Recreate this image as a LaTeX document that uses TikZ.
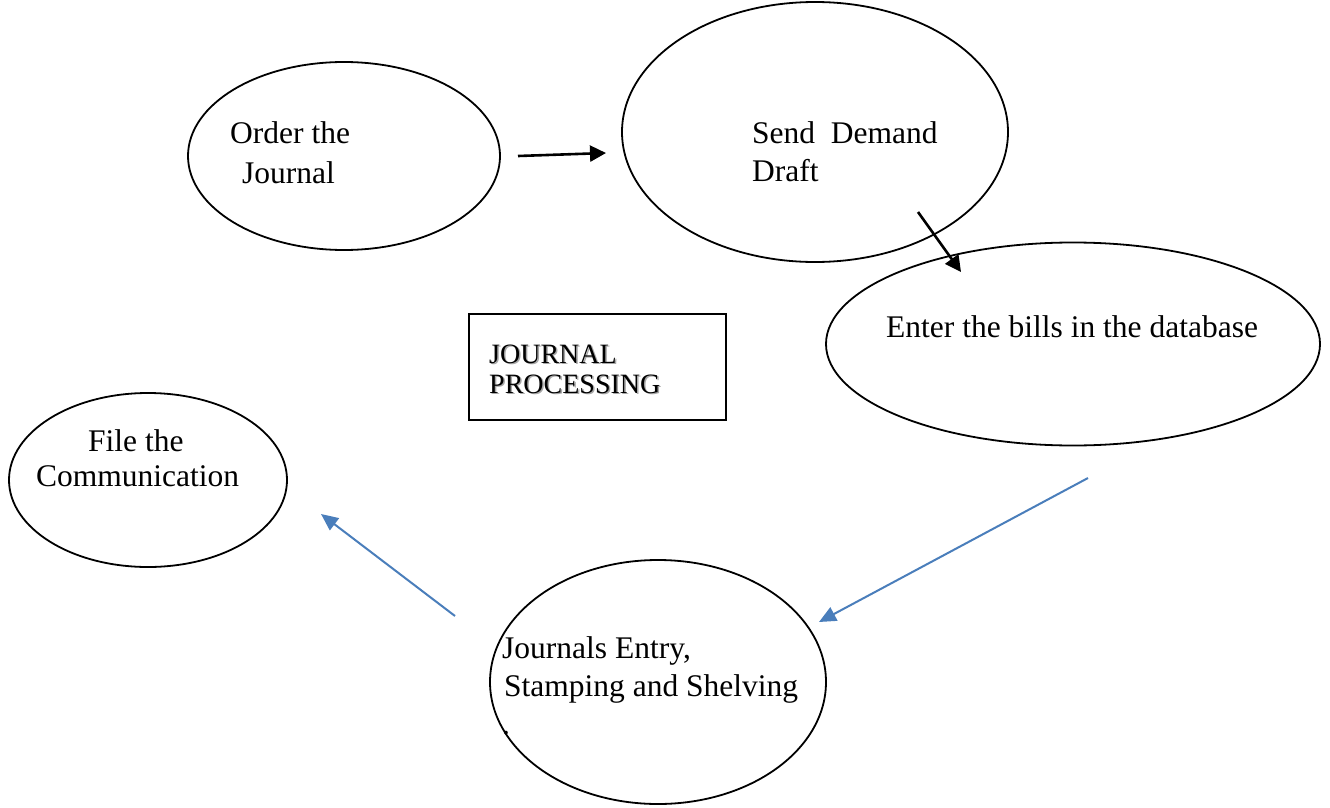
\documentclass[tikz,border=0pt]{standalone}
\usepackage{fontspec}
\setmainfont{Liberation Serif}
\usetikzlibrary{shapes.geometric,arrows.meta}
\definecolor{wordblue}{HTML}{4A7EBB}
\tikzset{
  proc/.style={draw=black,line width=1.8pt,ellipse,inner sep=0pt},
  lbl/.style={anchor=base west,inner sep=0pt,font=\fontsize{31.5}{36}\selectfont},
  boxlbl/.style={anchor=base west,inner sep=0pt,font=\fontsize{28}{32}\selectfont},
  blackarrow/.style={line width=2.6pt,-{Triangle[length=16pt,width=16pt]}},
  bluearrow/.style={draw=wordblue,line width=2pt,-{Triangle[length=17pt,width=15pt]}}
}
\begin{document}
\begin{tikzpicture}[x=1pt,y=-1pt]
\useasboundingbox (0,0) rectangle (1330,808);
% ellipses
\node[proc,minimum width=312pt,minimum height=188pt] (order) at (344,156) {};
\node[proc,minimum width=386pt,minimum height=260pt] (send) at (815,132) {};
\node[proc,minimum width=494pt,minimum height=203pt] (enter) at (1073,344) {};
\node[proc,minimum width=278pt,minimum height=174pt] (file) at (148,480) {};
\node[proc,minimum width=336pt,minimum height=244pt] (journ) at (658,682) {};
% box
\node[draw=black,line width=1.2pt,minimum width=257pt,minimum height=106pt,inner sep=0pt] (box) at (597.5,367) {};
% texts
\node[lbl] (t1a) at (230,143) {Order the};
\node[lbl] (t1b) at (242,183) {Journal};
\node[lbl] (t2a) at (752,143) {Send\ \ Demand};
\node[lbl] (t2b) at (752,181) {Draft};
\node[lbl] (t3) at (886,337) {Enter the bills in the database};
\node[lbl] (t4a) at (88,451) {File the};
\node[lbl] (t4b) at (36,486) {Communication};
\node[lbl] (t5a) at (502,658) {Journals Entry,};
\node[lbl] (t5b) at (504,696) {Stamping and Shelving};
\node[lbl] (t5c) at (502,734) {.};
\node[boxlbl,text=black!35] at (490.5,364.5) {JOURNAL};
\node[boxlbl,text=black!35] at (490.5,394.5) {PROCESSING};
\node[boxlbl] (b1) at (489,363) {JOURNAL};
\node[boxlbl] (b2) at (489,393) {PROCESSING};
% arrows
\coordinate (a1s) at (518,156);
\coordinate (a1e) at (606,153);
\coordinate (a2s) at (918,212);
\coordinate (a2e) at (961,272);
\coordinate (a3s) at (1088,478);
\coordinate (a3e) at (819,622);
\coordinate (a4s) at (455,616);
\coordinate (a4e) at (321,514);
\draw[blackarrow] (a1s) -- (a1e);
\draw[blackarrow] (a2s) -- (a2e);
\draw[bluearrow] (a3s) -- (a3e);
\draw[bluearrow] (a4s) -- (a4e);
\end{tikzpicture}
\end{document}
